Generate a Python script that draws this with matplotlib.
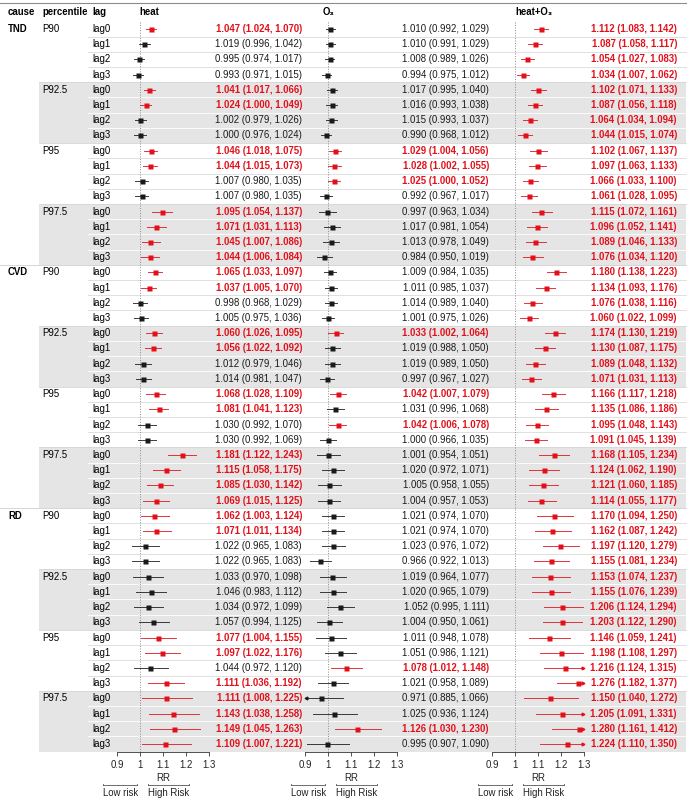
import numpy as np
import matplotlib.pyplot as plt
from matplotlib.patches import Rectangle

plt.rcParams['font.family'] = ['Liberation Sans', 'DejaVu Sans']

causes = ['TND', 'CVD', 'RD']
percentiles = ['P90', 'P92.5', 'P95', 'P97.5']
lags = ['lag0', 'lag1', 'lag2', 'lag3']
headers = ['heat', 'O\u2083', 'heat+O\u2083']

# 48 rows: cause x percentile x lag
heat_rr = [1.047, 1.019, 0.995, 0.993, 1.041, 1.024, 1.002, 1.000,
           1.046, 1.044, 1.007, 1.007, 1.095, 1.071, 1.045, 1.044,
           1.065, 1.037, 0.998, 1.005, 1.060, 1.056, 1.012, 1.014,
           1.068, 1.081, 1.030, 1.030, 1.181, 1.115, 1.085, 1.069,
           1.062, 1.071, 1.022, 1.022, 1.033, 1.046, 1.034, 1.057,
           1.077, 1.097, 1.044, 1.111, 1.111, 1.143, 1.149, 1.109]
heat_lo = [1.024, 0.996, 0.974, 0.971, 1.017, 1.000, 0.979, 0.976,
           1.018, 1.015, 0.980, 0.980, 1.054, 1.031, 1.007, 1.006,
           1.033, 1.005, 0.968, 0.975, 1.026, 1.022, 0.979, 0.981,
           1.028, 1.041, 0.992, 0.992, 1.122, 1.058, 1.030, 1.015,
           1.003, 1.011, 0.965, 0.965, 0.970, 0.983, 0.972, 0.994,
           1.004, 1.022, 0.972, 1.036, 1.008, 1.038, 1.045, 1.007]
heat_hi = [1.070, 1.042, 1.017, 1.015, 1.066, 1.049, 1.026, 1.024,
           1.075, 1.073, 1.035, 1.035, 1.137, 1.113, 1.086, 1.084,
           1.097, 1.070, 1.029, 1.036, 1.095, 1.092, 1.046, 1.047,
           1.109, 1.123, 1.070, 1.069, 1.243, 1.175, 1.142, 1.125,
           1.124, 1.134, 1.083, 1.083, 1.098, 1.112, 1.099, 1.125,
           1.155, 1.176, 1.120, 1.192, 1.225, 1.258, 1.263, 1.221]

o3_rr = [1.010, 1.010, 1.008, 0.994, 1.017, 1.016, 1.015, 0.990,
         1.029, 1.028, 1.025, 0.992, 0.997, 1.017, 1.013, 0.984,
         1.009, 1.011, 1.014, 1.001, 1.033, 1.019, 1.019, 0.997,
         1.042, 1.031, 1.042, 1.000, 1.001, 1.020, 1.005, 1.004,
         1.021, 1.021, 1.023, 0.966, 1.019, 1.020, 1.052, 1.004,
         1.011, 1.051, 1.078, 1.021, 0.971, 1.025, 1.126, 0.995]
o3_lo = [0.992, 0.991, 0.989, 0.975, 0.995, 0.993, 0.993, 0.968,
         1.004, 1.002, 1.000, 0.967, 0.963, 0.981, 0.978, 0.950,
         0.984, 0.985, 0.989, 0.975, 1.002, 0.988, 0.989, 0.967,
         1.007, 0.996, 1.006, 0.966, 0.954, 0.972, 0.958, 0.957,
         0.974, 0.974, 0.976, 0.922, 0.964, 0.965, 0.995, 0.950,
         0.948, 0.986, 1.012, 0.958, 0.885, 0.936, 1.030, 0.907]
o3_hi = [1.029, 1.029, 1.026, 1.012, 1.040, 1.038, 1.037, 1.012,
         1.056, 1.055, 1.052, 1.017, 1.034, 1.054, 1.049, 1.019,
         1.035, 1.037, 1.040, 1.026, 1.064, 1.050, 1.050, 1.027,
         1.079, 1.068, 1.078, 1.035, 1.051, 1.071, 1.055, 1.053,
         1.070, 1.070, 1.072, 1.013, 1.077, 1.079, 1.111, 1.061,
         1.078, 1.121, 1.148, 1.089, 1.066, 1.124, 1.230, 1.090]

both_rr = [1.112, 1.087, 1.054, 1.034, 1.102, 1.087, 1.064, 1.044,
           1.102, 1.097, 1.066, 1.061, 1.115, 1.096, 1.089, 1.076,
           1.180, 1.134, 1.076, 1.060, 1.174, 1.130, 1.089, 1.071,
           1.166, 1.135, 1.095, 1.091, 1.168, 1.124, 1.121, 1.114,
           1.170, 1.162, 1.197, 1.155, 1.153, 1.155, 1.206, 1.203,
           1.146, 1.198, 1.216, 1.276, 1.150, 1.205, 1.280, 1.224]
both_lo = [1.083, 1.058, 1.027, 1.007, 1.071, 1.056, 1.034, 1.015,
           1.067, 1.063, 1.033, 1.028, 1.072, 1.052, 1.046, 1.034,
           1.138, 1.093, 1.038, 1.022, 1.130, 1.087, 1.048, 1.031,
           1.117, 1.086, 1.048, 1.045, 1.105, 1.062, 1.060, 1.055,
           1.094, 1.087, 1.120, 1.081, 1.074, 1.076, 1.124, 1.122,
           1.059, 1.108, 1.124, 1.182, 1.040, 1.091, 1.161, 1.110]
both_hi = [1.142, 1.117, 1.083, 1.062, 1.133, 1.118, 1.094, 1.074,
           1.137, 1.133, 1.100, 1.095, 1.161, 1.141, 1.133, 1.120,
           1.223, 1.176, 1.116, 1.099, 1.219, 1.175, 1.132, 1.113,
           1.218, 1.186, 1.143, 1.139, 1.234, 1.190, 1.185, 1.177,
           1.250, 1.242, 1.279, 1.234, 1.237, 1.239, 1.294, 1.290,
           1.241, 1.297, 1.315, 1.377, 1.272, 1.331, 1.412, 1.350]

series = [(heat_rr, heat_lo, heat_hi), (o3_rr, o3_lo, o3_hi), (both_rr, both_lo, both_hi)]

RED = '#e3101a'
DARK = '#1a1a1a'
W, H = 697, 800
n = len(heat_rr)
pitch = 15.213
row_y = 29 + pitch * np.arange(n)
half = pitch / 2
tab_top, tab_bot = row_y[0] - half, row_y[-1] + half
fs = 6.9

fig = plt.figure(figsize=(W / 100, H / 100), dpi=100)
bg = fig.add_axes([0, 0, 1, 1])
bg.set_xlim(0, W)
bg.set_ylim(H, 0)
bg.axis('off')

# shaded groups (P92.5, P97.5)
right_edge = 686
for c in range(len(causes)):
    for g in (1, 3):
        r0 = c * 16 + g * 4
        bg.add_patch(Rectangle((39, row_y[r0] - half), right_edge - 39, 4 * pitch,
                               facecolor='#e5e5e5', edgecolor='none', zorder=0))

# row separators
for i in range(1, n):
    y = row_y[i] - half
    shaded = (i // 4) % 2 == 1 and i % 4 != 0
    if i % 16 == 0:
        x0, col = 0, '#cfcfcf'
    elif i % 4 == 0:
        x0, col = 39, '#d6d6d6'
    else:
        x0, col = 88, 'white' if shaded else '#dadada'
    bg.plot([x0, right_edge], [y, y], color=col, lw=0.6, zorder=1)

bg.plot([0, right_edge], [3, 3], color='#8c8c8c', lw=0.8)

# headers
for x, t in zip([8, 42, 92], ['cause', 'percentile', 'lag']):
    bg.text(x, 12, t, fontsize=fs, fontweight='bold', va='center', ha='left')
for x, t in zip([139, 323, 515], headers):
    bg.text(x, 12, t, fontsize=fs, fontweight='bold', va='center', ha='left')

# label columns
for c, cause in enumerate(causes):
    bg.text(8, row_y[c * 16], cause, fontsize=fs, fontweight='bold', va='center')
    for p, pct in enumerate(percentiles):
        bg.text(42, row_y[c * 16 + p * 4], pct, fontsize=fs, va='center')
        for l, lag in enumerate(lags):
            bg.text(92, row_y[c * 16 + p * 4 + l], lag, fontsize=fs, va='center')

# forest panels
panel_left = [117, 305, 492]
text_right = [302, 489, 677]
for k, (rr, lo, hi) in enumerate(series):
    ax = fig.add_axes([panel_left[k] / W, (H - tab_bot) / H, 92 / W, (tab_bot - tab_top) / H])
    ax.set_xlim(0.9, 1.3)
    ax.set_ylim(tab_bot, tab_top)
    ax.patch.set_visible(False)
    for s in ['top', 'left', 'right']:
        ax.spines[s].set_visible(False)
    ax.spines['bottom'].set_linewidth(0.6)
    ax.spines['bottom'].set_color('#333333')
    ax.set_yticks([])
    ax.set_xticks([0.9, 1.0, 1.1, 1.2, 1.3])
    ax.set_xticklabels(['0.9', '1', '1.1', '1.2', '1.3'], fontsize=fs)
    ax.tick_params(axis='x', length=3, width=0.6, colors='#333333', pad=3, labelcolor='#222222')
    ax.set_xlabel('RR', fontsize=fs, labelpad=2, color='#222222')
    ax.axvline(1.0, ls=':', color='#8a8a8a', lw=0.7, zorder=1)
    for i in range(n):
        sig = lo[i] >= 1.0
        col = RED if sig else DARK
        a, b = max(lo[i], 0.9), min(hi[i], 1.3)
        ax.plot([a, b], [row_y[i], row_y[i]], color=col, lw=0.7, alpha=0.85, zorder=2, clip_on=False)
        if hi[i] > 1.3:
            ax.plot(1.297, row_y[i], marker='>', ms=2.0, color=col, zorder=2, clip_on=False)
        if lo[i] < 0.9:
            ax.plot(0.903, row_y[i], marker='<', ms=2.0, color=col, zorder=2, clip_on=False)
        ax.plot(rr[i], row_y[i], marker='s', ms=3.6, color=col, mec='none', zorder=3, clip_on=False)
        label = f'{rr[i]:.3f} ({lo[i]:.3f}, {hi[i]:.3f})'
        bg.text(text_right[k], row_y[i], label, fontsize=fs, ha='right', va='center',
                color=col, fontweight='bold' if sig else 'normal')

    # risk direction labels under each panel
    ref = panel_left[k] + 23
    for x0, x1, t in [(ref - 37, ref - 3, 'Low risk'), (ref + 8, ref + 49, 'High Risk')]:
        bg.plot([x0, x1], [785, 785], color='#555555', lw=0.6)
        bg.plot([x0, x0], [783.5, 785], color='#555555', lw=0.6)
        bg.plot([x1, x1], [783.5, 785], color='#555555', lw=0.6)
        bg.text(x0, 793, t, fontsize=fs, ha='left', va='center', color='#222222')

fig.savefig('out.png', dpi=100)
